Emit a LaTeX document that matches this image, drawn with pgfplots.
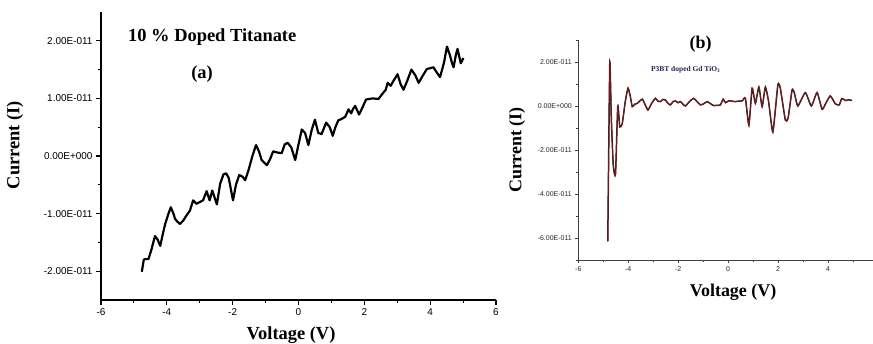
\documentclass[border=0pt]{standalone}
\usepackage{fontspec}
\setmainfont{Liberation Serif}
\newfontfamily\arialfont{Liberation Sans}
\usepackage{pgfplots}
\pgfplotsset{compat=1.18}
\definecolor{maroon}{RGB}{120,22,28}
\definecolor{navytxt}{RGB}{35,40,85}
\begin{document}
\begin{tikzpicture}
\useasboundingbox (0,0) rectangle (873bp,344bp);
% ---------- panel (a)
\begin{axis}[
  scale only axis, at={(101bp,44bp)}, anchor=south west,
  width=395bp, height=288bp,
  xmin=-6, xmax=6, ymin=-2.5, ymax=2.5,
  axis x line*=bottom, axis y line*=left, axis line style={-, line width=1.3pt},
  tick align=outside, major tick length=5bp, minor tick length=3bp,
  every tick/.style={line width=1.1pt, black},
  xtick={-6,-4,-2,0,2,4,6}, xticklabels={-6,-4,-2,0,2,4,6},
  minor xtick={-5,-3,-1,1,3,5},
  ytick={-2,-1,0,1,2},
  yticklabels={-2.00E-011,-1.00E-011,0.00E+000,1.00E-011,2.00E-011},
  minor ytick={-1.5,-0.5,0.5,1.5},
  tick label style={font=\arialfont\fontsize{10}{12}\selectfont},
  xlabel={Voltage (V)}, ylabel={Current (I)},
  label style={font=\bfseries\fontsize{18.5}{21}\selectfont},
  xlabel style={at={(axis description cs:0.481,-0.122)}, anchor=center},
  ylabel style={at={(axis description cs:-0.218,0.538)}, anchor=center, rotate=0},
  clip=false,
]
\addplot[black, line width=2.2pt, line join=round] coordinates {
(-4.76,-2.01) (-4.70,-1.80) (-4.66,-1.79) (-4.56,-1.79) (-4.48,-1.65) (-4.36,-1.39)
(-4.28,-1.45) (-4.20,-1.56) (-4.12,-1.35) (-4.05,-1.18) (-3.95,-1.00) (-3.88,-0.89)
(-3.80,-1.00) (-3.75,-1.09) (-3.68,-1.14) (-3.60,-1.18) (-3.50,-1.12) (-3.40,-1.03)
(-3.30,-0.95) (-3.20,-0.77) (-3.10,-0.83) (-3.00,-0.80) (-2.90,-0.77) (-2.79,-0.61)
(-2.70,-0.77) (-2.62,-0.60) (-2.48,-0.84) (-2.38,-0.48) (-2.28,-0.32) (-2.20,-0.30)
(-2.12,-0.38) (-1.99,-0.77) (-1.90,-0.50) (-1.80,-0.33) (-1.70,-0.36) (-1.62,-0.42)
(-1.52,-0.25) (-1.40,0.00) (-1.29,0.19) (-1.20,0.08) (-1.12,-0.07) (-0.96,-0.16)
(-0.86,-0.05) (-0.77,0.08) (-0.64,0.06) (-0.51,0.05) (-0.42,0.20) (-0.33,0.23)
(-0.22,0.15) (-0.10,-0.07) (0.00,0.20) (0.10,0.46) (0.20,0.40) (0.30,0.19)
(0.40,0.45) (0.50,0.63) (0.60,0.40) (0.70,0.38) (0.84,0.58) (0.95,0.50)
(1.04,0.35) (1.12,0.50) (1.21,0.62) (1.30,0.64) (1.42,0.68) (1.52,0.81)
(1.60,0.74) (1.66,0.82) (1.72,0.87) (1.84,0.72) (1.95,0.85) (2.05,0.98)
(2.25,1.00) (2.43,0.99) (2.55,1.08) (2.65,1.15) (2.71,1.27) (2.80,1.22)
(2.88,1.30) (3.01,1.42) (3.10,1.25) (3.19,1.15) (3.30,1.30) (3.43,1.50)
(3.55,1.40) (3.65,1.27) (3.78,1.40) (3.90,1.51) (4.10,1.54) (4.20,1.45)
(4.30,1.37) (4.42,1.62) (4.51,1.90) (4.60,1.75) (4.66,1.62) (4.71,1.54)
(4.78,1.75) (4.83,1.86) (4.93,1.61) (5.01,1.70)
};
\node[font=\bfseries\fontsize{18.5}{21}\selectfont] at (axis cs:-2.62,2.07) {10 \% Doped Titanate};
\node[font=\bfseries\fontsize{18.5}{21}\selectfont] at (axis cs:-2.93,1.42) {(a)};
\end{axis}
% ---------- panel (b)
\begin{axis}[
  scale only axis, at={(578.3bp,84bp)}, anchor=south west,
  width=294.7bp, height=220bp,
  xmin=-6, xmax=5.8, ymin=-7, ymax=3,
  axis x line*=bottom, axis y line*=left, axis line style={-, line width=0.8pt, black!75},
  tick align=outside, major tick length=3bp, minor tick length=2bp,
  every tick/.style={line width=0.8pt, black!75},
  xtick={-6,-4,-2,0,2,4}, xticklabels={-6,-4,-2,0,2,4},
  minor xtick={-5,-3,-1,1,3,5},
  ytick={-6,-4,-2,0,2},
  yticklabels={-6.00E-011,-4.00E-011,-2.00E-011,0.00E+000,2.00E-011},
  minor ytick={-7,-5,-3,-1,1,3},
  tick label style={font=\arialfont\fontsize{7}{8}\selectfont, black!85},
  xlabel={Voltage (V)}, ylabel={Current (I)},
  label style={font=\bfseries\fontsize{18}{21}\selectfont},
  xlabel style={at={(axis description cs:0.525,-0.145)}, anchor=center},
  ylabel style={at={(axis description cs:-0.208,0.5)}, anchor=center},
  clip=false,
]
\addplot[maroon, line width=0.9pt, smooth, tension=0.3,
  preaction={draw, black!85, line width=1.5pt}] coordinates {
(-4.82,-6.15) (-4.74,1.96) (-4.68,-0.5) (-4.60,-2.70) (-4.51,-3.09) (-4.42,0.00)
(-4.34,-0.95) (-4.24,-0.80) (-4.12,0.20) (-4.01,0.81) (-3.92,0.45) (-3.84,-0.03)
(-3.74,0.08) (-3.64,0.12) (-3.44,0.31) (-3.32,0.05) (-3.21,-0.18) (-3.05,0.15)
(-2.91,0.35) (-2.81,0.22) (-2.71,0.20) (-2.61,0.30) (-2.51,0.27) (-2.41,0.12)
(-2.31,0.05) (-2.21,0.20) (-2.11,0.23) (-2.01,0.15) (-1.91,0.20) (-1.81,0.08)
(-1.71,0.00) (-1.55,0.20) (-1.38,0.35) (-1.25,0.20) (-1.11,0.05) (-0.98,0.10)
(-0.84,0.20) (-0.70,0.10) (-0.58,0.02) (-0.45,0.03) (-0.31,0.05) (-0.20,0.31)
(-0.11,0.15) (0.03,0.24) (0.15,0.22) (0.29,0.20) (0.42,0.22) (0.56,0.23)
(0.69,0.35) (0.83,-0.87) (0.96,0.81) (1.09,0.12) (1.23,0.86) (1.36,-0.03)
(1.49,0.86) (1.62,0.20) (1.79,-1.18) (1.99,0.96) (2.09,0.80) (2.29,-0.64)
(2.40,-0.55) (2.56,0.73) (2.65,0.60) (2.79,0.00) (3.09,0.61) (3.33,0.00)
(3.56,0.61) (3.76,-0.15) (3.90,0.10) (4.09,0.46) (4.29,0.10) (4.45,0.05)
(4.55,0.34) (4.70,0.25) (4.83,0.28) (4.96,0.25)
};
\node[font=\bfseries\fontsize{18}{21}\selectfont] at (axis cs:-1.1,2.8) {(b)};
\node[font=\bfseries\fontsize{7.5}{9}\selectfont, navytxt] at (axis cs:-1.7,1.65) {P3BT doped Gd TiO\textsubscript{3}};
\end{axis}
\end{tikzpicture}
\end{document}
